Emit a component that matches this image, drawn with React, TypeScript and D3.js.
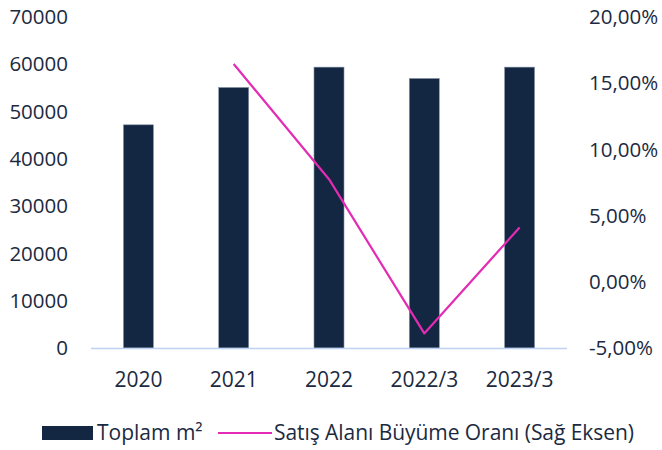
import { useEffect, useRef } from "react";
import * as d3 from "d3";

const categories = ["2020", "2021", "2022", "2022/3", "2023/3"];
const totalArea = [47200, 55100, 59400, 57000, 59400];
const growthRate = [null, 16.45, 7.75, -3.9, 4.1];
const leftTicks = [0, 10000, 20000, 30000, 40000, 50000, 60000, 70000];
const rightTicks = [-5, 0, 5, 10, 15, 20];
const legendLabels = ["Toplam m²", "Satış Alanı Büyüme Oranı (Sağ Eksen)"];

const W = 662;
const H = 450;
const textColor = "#1b2a41";
const barColor = "#132742";
const lineColor = "#e32bb3";
const font = "'Open Sans', sans-serif";

export default function App() {
  const svgRef = useRef<SVGSVGElement>(null);

  useEffect(() => {
    const svg = d3.select(svgRef.current);
    svg.selectAll("*").remove();

    const margin = { top: 17, right: 95, bottom: 102, left: 91 };
    const plotW = W - margin.left - margin.right;
    const plotH = H - margin.top - margin.bottom;

    const g = svg.append("g")
      .attr("transform", `translate(${margin.left},${margin.top})`);

    const x = d3.scaleBand()
      .domain(categories)
      .range([0, plotW])
      .paddingInner(0.685)
      .paddingOuter(0.34);

    const y = d3.scaleLinear().domain([0, 70000]).range([plotH, 0]);
    const yR = d3.scaleLinear().domain([-5, 20]).range([plotH, 0]);

    // bars
    g.selectAll(".bar")
      .data(categories)
      .join("rect")
      .attr("class", "bar")
      .attr("x", d => x(d)!)
      .attr("y", (d, i) => y(totalArea[i]))
      .attr("width", x.bandwidth())
      .attr("height", (d, i) => plotH - y(totalArea[i]))
      .attr("fill", barColor)
      .attr("stroke", "#8a96a8")
      .attr("stroke-width", 0.6);

    // baseline
    g.append("line")
      .attr("x1", 0)
      .attr("x2", plotW)
      .attr("y1", plotH + 0.5)
      .attr("y2", plotH + 0.5)
      .attr("stroke", "#bed3f3")
      .attr("stroke-width", 1.5);

    // growth line (right axis)
    const pts = categories
      .map((c, i) => ({ c, v: growthRate[i] }))
      .filter(d => d.v !== null) as { c: string; v: number }[];

    const line = d3.line<{ c: string; v: number }>()
      .x(d => x(d.c)! + x.bandwidth() / 2)
      .y(d => yR(d.v));

    g.append("path")
      .datum(pts)
      .attr("d", line)
      .attr("fill", "none")
      .attr("stroke", lineColor)
      .attr("stroke-width", 2.2)
      .attr("stroke-linejoin", "round");

    // left axis labels
    g.selectAll(".ly")
      .data(leftTicks)
      .join("text")
      .attr("class", "ly")
      .attr("x", -23)
      .attr("y", d => y(d))
      .attr("dy", "0.35em")
      .attr("text-anchor", "end")
      .attr("fill", textColor)
      .style("font-family", font)
      .style("font-size", "20.5px")
      .text(d => String(d));

    // right axis labels
    g.selectAll(".ry")
      .data(rightTicks)
      .join("text")
      .attr("class", "ry")
      .attr("x", plotW + 22)
      .attr("y", d => yR(d))
      .attr("dy", "0.35em")
      .attr("text-anchor", "start")
      .attr("fill", textColor)
      .style("font-family", font)
      .style("font-size", "20.5px")
      .text(d => d.toFixed(2).replace(".", ",") + "%");

    // x labels
    g.selectAll(".xl")
      .data(categories)
      .join("text")
      .attr("class", "xl")
      .attr("x", d => x(d)! + x.bandwidth() / 2)
      .attr("y", plotH + 32)
      .attr("dy", "0.35em")
      .attr("text-anchor", "middle")
      .attr("fill", textColor)
      .style("font-family", font)
      .style("font-size", "21px")
      .text(d => d);

    // legend
    const legend = svg.append("g").attr("class", "legend");
    legend.append("rect")
      .attr("x", 42)
      .attr("y", 426)
      .attr("width", 51)
      .attr("height", 14)
      .attr("fill", barColor);
    legend.append("text")
      .attr("x", 97)
      .attr("y", 440)
      .attr("fill", textColor)
      .style("font-family", font)
      .style("font-size", "21px")
      .text(legendLabels[0]);
    legend.append("line")
      .attr("x1", 218)
      .attr("x2", 272)
      .attr("y1", 433)
      .attr("y2", 433)
      .attr("stroke", lineColor)
      .attr("stroke-width", 2.2);
    legend.append("text")
      .attr("x", 274)
      .attr("y", 440)
      .attr("fill", textColor)
      .style("font-family", font)
      .style("font-size", "21px")
      .attr("textLength", 360)
      .attr("lengthAdjust", "spacing")
      .text(legendLabels[1]);
  }, []);

  return (
    <svg
      ref={svgRef}
      width={W}
      height={H}
      style={{ position: "absolute", left: 0, top: 0, background: "#fff" }}
    />
  );
}
